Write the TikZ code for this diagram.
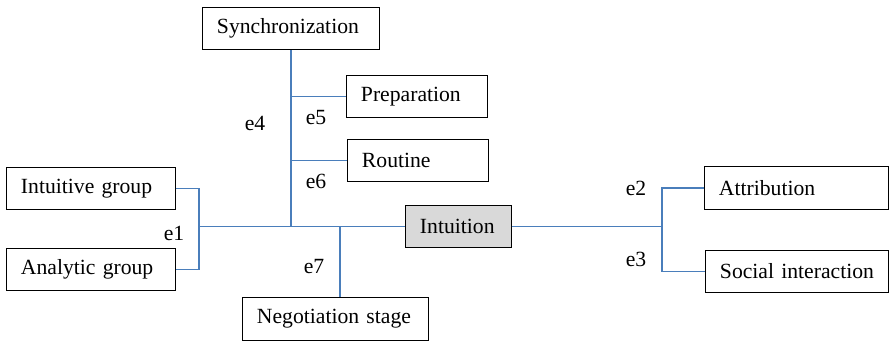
\documentclass[tikz,border=0pt]{standalone}
\usepackage{fontspec}
\setmainfont{Liberation Serif}
\usepackage{tikz}
\definecolor{linkblue}{RGB}{74, 126, 187}
\definecolor{boxgray}{RGB}{217, 217, 217}

\begin{document}
\begin{tikzpicture}[x=0.025cm, y=-0.025cm,
  every node/.style={font=\fontsize{15.4}{18}\selectfont},
  box/.style={draw=black, line width=0.7, minimum height=1.07cm, inner xsep=0.35cm, align=left},
  link/.style={linkblue, line width=1.1}]

  \useasboundingbox (0, 0) rectangle (890, 346);

  \node[box, text width=3.5cm] (intg) at (91, 188.5) {Intuitive group};
  \node[box, text width=3.5cm] (anag) at (91, 269.5) {Analytic group};
  \node[box, text width=3.7cm] (sync) at (291, 28.5) {Synchronization};
  \node[box, text width=2.8cm] (prep) at (417, 96.5) {Preparation};
  \node[box, text width=2.8cm] (rout) at (418, 160.5) {Routine};
  \node[box, text width=1.925cm, fill=boxgray] (intu) at (458.5, 226.5) {Intuition};
  \node[box, text width=3.925cm] (nego) at (335.5, 319) {Negotiation stage};
  \node[box, text width=3.875cm] (attr) at (796.5, 188) {Attribution};
  \node[box, text width=3.85cm] (soci) at (797, 271.5) {Social interaction};

  \coordinate (j1) at (199, 226.5);
  \coordinate (j7) at (340, 226.5);
  \coordinate (j2) at (662, 226.5);

  \draw[link] (intg.east) -| (j1) |- (anag.east);
  \draw[link] (j1) -- (intu.west);
  \draw[link] (sync.south) -- (sync.south |- j1);
  \draw[link] (sync.south |- prep.west) -- (prep.west);
  \draw[link] (sync.south |- rout.west) -- (rout.west);
  \draw[link] (j7) -- (j7 |- nego.north);
  \draw[link] (intu.east) -- (j2);
  \draw[link] (attr.west) -| (j2) |- (soci.west);

  \node (e1) at (174, 233) {e1};
  \node (e2) at (636, 188) {e2};
  \node (e3) at (636, 259) {e3};
  \node (e4) at (255, 123) {e4};
  \node (e5) at (316, 118) {e5};
  \node (e6) at (316, 181) {e6};
  \node (e7) at (314, 267) {e7};

\end{tikzpicture}
\end{document}
